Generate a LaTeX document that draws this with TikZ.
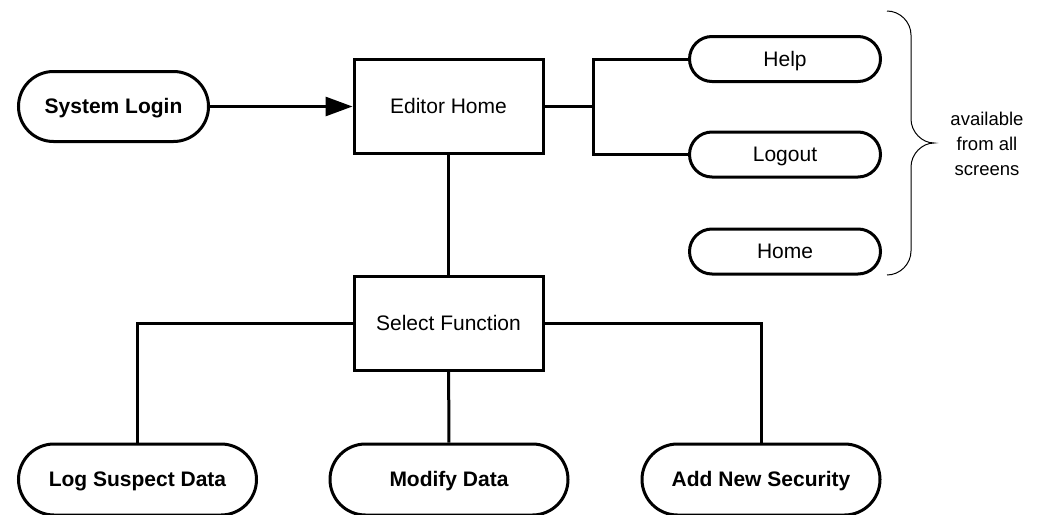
\documentclass[tikz,border=0pt]{standalone}
\usepackage{fontspec}
\setmainfont{Liberation Sans}
\usetikzlibrary{arrows.meta}
\begin{document}
\begin{tikzpicture}[x=1pt,y=-1pt,
  every node/.style={font=\fontsize{21}{25}\selectfont},
  conn/.style={line width=3pt},
  fixtext/.style={text height=14pt,text depth=0pt},
  boxnode/.style={draw,line width=3pt,rectangle,minimum width=189pt,minimum height=94pt,inner sep=0pt,fixtext},
  bigpill/.style={draw,line width=3pt,rectangle,rounded corners=35pt,minimum width=190pt,minimum height=70pt,inner sep=0pt,fixtext,font=\fontsize{21}{25}\selectfont\bfseries},
  smallpill/.style={draw,line width=3pt,rectangle,rounded corners=22.5pt,minimum width=191pt,minimum height=45pt,inner sep=0pt,fixtext},
  botpill/.style={draw,line width=3pt,rectangle,rounded corners=35.5pt,minimum width=238pt,minimum height=71pt,inner sep=0pt,fixtext,font=\fontsize{21}{25}\selectfont\bfseries},
  brace/.style={line width=1pt}
]
\useasboundingbox (0,0) rectangle (1044,514);
\clip (0,0) rectangle (1044,514);
\node[bigpill] (login) at (113.5,106.5) {System Login};
\node[boxnode] (edit) at (448.5,106.5) {Editor Home};
\node[smallpill] (help) at (785,59) {Help};
\node[smallpill] (logout) at (785,154.5) {Logout};
\node[smallpill] (home) at (785,251.5) {Home};
\node[boxnode] (sel) at (448.5,323.5) {Select Function};
\node[botpill] (log) at (137.5,479.5) {Log Suspect Data};
\node[botpill] (mod) at (449,479.5) {Modify Data};
\node[botpill] (add) at (761,479.5) {Add New Security};
\node[align=center,font=\fontsize{18.5}{25}\selectfont] (avail) at (987,144) {available\\from all\\screens};
\coordinate (j) at (593,106.5);
\draw[conn,-{Triangle[length=27pt,width=19pt]}] (login) -- (edit);
\draw[conn] (edit) -- (j);
\draw[conn] (j) |- (help);
\draw[conn] (j) |- (logout);
\draw[conn] (edit) -- (sel);
\draw[conn] (sel) -| (log);
\draw[conn] (sel) -- (mod);
\draw[conn] (sel) -| (add);
\draw[brace] (887,11) .. controls (900,11) and (911,22) .. (911,35) -- (911,119)
  .. controls (911,132) and (922,143) .. (934,143)
  .. controls (922,143) and (911,154) .. (911,167) -- (911,251)
  .. controls (911,264) and (900,275) .. (887,275);
\end{tikzpicture}
\end{document}
